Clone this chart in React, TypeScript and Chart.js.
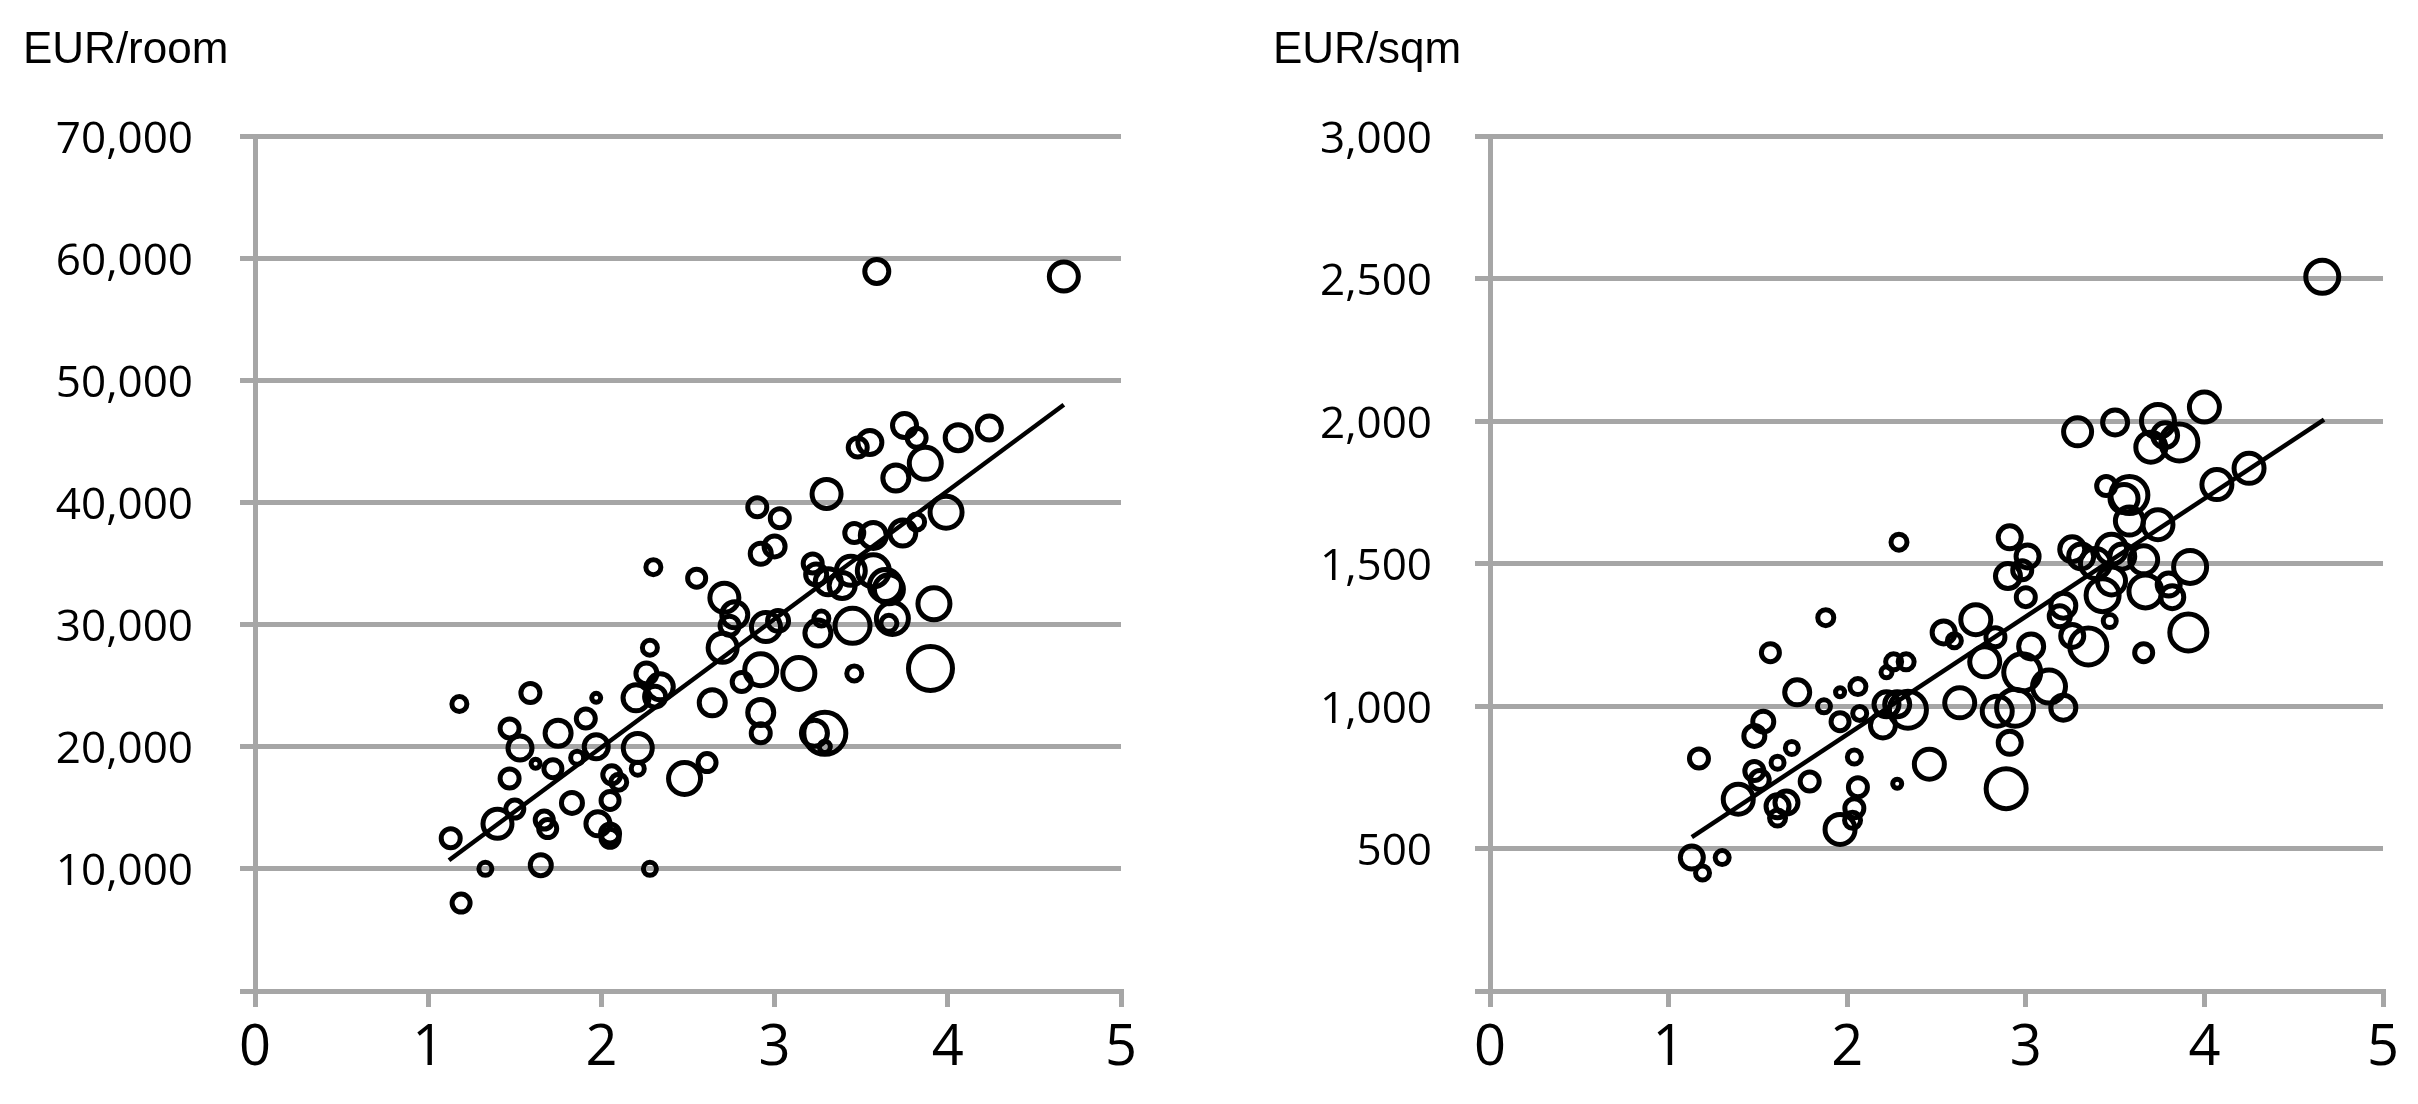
import React, { useEffect, useRef } from "react";
import Chart from "chart.js/auto";

// ---------- data ----------
const xTickValues = [0, 1, 2, 3, 4, 5];
const roomTickValues = [0, 10000, 20000, 30000, 40000, 50000, 60000, 70000];
const sqmTickValues = [0, 500, 1000, 1500, 2000, 2500, 3000];

const roomTitle = "EUR/room";
const sqmTitle = "EUR/sqm";

const roomX = [3.59,4.67,4.24,4.06,3.75,3.82,3.55,3.48,3.87,3.70,3.30,3.99,2.90,3.03,3.82,3.74,3.46,3.57,3.00,2.92,2.30,2.55,3.22,3.24,3.31,3.39,3.44,3.57,3.64,3.66,2.71,2.77,2.74,2.95,3.02,3.25,3.27,3.45,3.68,3.66,3.92,2.70,2.28,2.92,3.14,3.90,3.46,2.26,2.34,2.31,2.20,2.81,2.64,2.92,2.92,3.23,3.29,3.29,2.61,2.48,2.21,2.21,1.97,1.91,1.97,1.86,1.75,1.72,1.59,1.18,1.47,1.53,1.62,1.47,1.50,1.40,1.67,1.69,1.83,1.98,2.05,2.06,2.10,2.05,2.05,1.13,1.65,1.33,2.28,1.19];
const roomY = [58900,58500,46100,45300,46300,45300,44900,44500,43200,42000,40700,39200,39600,38700,38400,37500,37500,37300,36400,35800,34700,33800,35000,34100,33500,33200,34400,34400,33200,32900,32200,30800,29900,29800,30300,29300,30500,29900,30500,30100,31700,28100,28100,26300,26000,26400,26000,26000,24900,24100,24000,25300,23600,22800,21100,21100,21100,20000,18700,17400,19900,18200,24000,22300,20000,19100,21100,18200,24400,23500,21500,19900,18600,17400,14900,13700,14000,13300,15400,13700,12900,17700,17100,15600,12500,12500,10300,10000,10000,7200];
const roomR = [12,14.5,12,13,12,9.5,12,9.5,16,13,14.5,16,9.5,9.5,8,13,9.5,13,10.5,10.5,7.5,9,9.5,10.5,13,13,14.5,16,16,14.5,14.5,13,9.5,14.5,10.5,13,7.5,17.5,16,8,16,14.5,7.5,16,16,22,7.5,10.5,13,10.5,13,9.5,13,13,9.5,13,21,5.5,9,16,14.5,6.5,4.5,9.5,12,6.5,13,9,9.5,7.5,9.5,12,4.5,9.5,9,14.5,9,9,10.5,12,9.5,9,8,9,9,9.5,10.5,6.5,6.5,9];
const roomTrendX = [1.12, 4.67];
const roomTrendY = [10700, 48000];

const sqmX = [4.66,4.00,4.25,4.07,3.29,3.50,3.74,3.78,3.86,3.70,3.45,3.58,3.55,3.58,3.74,2.91,2.29,3.01,3.26,3.31,3.48,3.39,3.54,3.66,3.92,2.90,2.98,3.48,3.43,3.67,3.80,3.82,3.00,3.21,3.19,3.47,2.72,2.83,2.54,2.60,3.26,3.35,3.03,3.91,3.66,2.77,2.98,3.13,1.88,1.57,2.26,2.33,2.22,1.72,2.06,1.96,1.87,2.07,2.22,2.28,2.34,2.20,1.96,2.63,2.84,2.94,3.21,2.91,2.89,2.46,1.48,1.53,1.17,1.61,1.69,1.48,1.51,1.79,1.39,1.66,1.61,1.61,2.04,2.06,2.04,2.03,1.96,2.28,1.13,1.30,1.19];
const sqmY = [2506,2049,1834,1777,1962,1995,2000,1950,1925,1908,1772,1740,1728,1649,1636,1592,1575,1525,1550,1525,1550,1500,1525,1513,1488,1456,1476,1439,1389,1402,1426,1382,1382,1352,1315,1298,1303,1241,1258,1229,1246,1209,1209,1258,1187,1155,1118,1068,1310,1187,1155,1155,1118,1048,1068,1048,999,974,1006,1006,987,932,945,1011,982,994,994,871,710,796,895,945,816,801,853,772,740,735,673,661,648,607,821,715,641,599,567,727,468,468,414];
const sqmR = [16.5,15,15,15,14,12.5,16.5,12.5,18.5,15,9.5,18.5,14,14,15,11.5,8,11.5,12.5,12.5,15,15,12.5,14,16.5,12.5,9.5,14,16.5,16.5,11.5,11.5,9.5,12.5,10.5,6.5,15,9.5,11.5,7,11.5,18.5,12.5,18.5,9,15,18.5,16.5,8,9,8,8,5.5,12.5,8,4.5,6.5,7,12.5,12.5,18.5,12.5,9,15,15,18.5,12.5,11.5,20,15,10.5,10.5,9.5,6.5,6.5,9.5,9.5,9.5,15,11.5,11.5,8,7,9.5,9.5,8,15,4.5,11.5,7,7];
const sqmTrendX = [1.13, 4.67];
const sqmTrendY = [540, 2005];

// ---------- style ----------
const GRAY = "#A6A6A6";
const TICK_FONT = "'Open Sans', 'Noto Sans', sans-serif";
const TITLE_FONT = "'Liberation Sans', Arial, sans-serif";

type PanelSpec = {
  left: number;
  width: number;
  height: number;
  areaLeft: number;
  areaRight: number;
  areaTop: number;
  areaBottom: number;
  xs: number[];
  ys: number[];
  rs: number[];
  trendX: number[];
  trendY: number[];
  yTicks: number[];
  yPad: number;
  title: string;
  titleLeft: number;
};

function buildConfig(p: PanelSpec): any {
  const bubbles = p.xs.map((x, i) => ({ x, y: p.ys[i], r: p.rs[i] }));
  const trend = p.trendX.map((x, i) => ({ x, y: p.trendY[i] }));
  const yMax = p.yTicks[p.yTicks.length - 1];
  return {
    type: "bubble",
    data: {
      datasets: [
        {
          type: "line",
          data: trend,
          borderColor: "#000",
          borderWidth: 4.5,
          pointRadius: 0,
          fill: false,
          order: 0,
        },
        {
          type: "bubble",
          data: bubbles,
          backgroundColor: "rgba(0,0,0,0)",
          borderColor: "#000",
          borderWidth: 5,
          order: 1,
        },
      ],
    },
    options: {
      animation: false,
      responsive: false,
      maintainAspectRatio: false,
      events: [],
      layout: {
        padding: {
          left: 0,
          top: p.areaTop,
          right: p.width - p.areaRight,
          bottom: 0,
        },
      },
      plugins: {
        legend: { display: false },
        tooltip: { enabled: false },
        title: { display: false },
      },
      scales: {
        x: {
          type: "linear",
          min: xTickValues[0],
          max: xTickValues[xTickValues.length - 1],
          afterBuildTicks: (s: any) => {
            s.ticks = xTickValues.map((v) => ({ value: v }));
          },
          afterFit: (s: any) => {
            s.height = p.height - p.areaBottom;
          },
          ticks: {
            font: { family: TICK_FONT, size: 56 },
            color: "#000",
            padding: 8,
            maxRotation: 0,
            callback: (v: any) => String(v),
          },
          grid: {
            drawOnChartArea: false,
            drawTicks: true,
            tickLength: 16,
            tickWidth: 5,
            tickColor: GRAY,
            color: GRAY,
            lineWidth: 5,
          },
          border: { color: GRAY, width: 5 },
        },
        y: {
          type: "linear",
          min: 0,
          max: yMax,
          afterBuildTicks: (s: any) => {
            s.ticks = p.yTicks.map((v) => ({ value: v }));
          },
          afterFit: (s: any) => {
            s.width = p.areaLeft;
          },
          ticks: {
            font: { family: TICK_FONT, size: 44 },
            color: "#000",
            padding: p.yPad,
            labelOffset: 4,
            callback: (v: any) => (v === 0 ? "" : Number(v).toLocaleString("en-US")),
          },
          grid: {
            drawTicks: true,
            tickLength: 15,
            tickWidth: 5,
            tickColor: GRAY,
            color: GRAY,
            lineWidth: 5,
          },
          border: { color: GRAY, width: 5 },
        },
      },
    },
  };
}

function Panel({ spec }: { spec: PanelSpec }) {
  const ref = useRef<HTMLCanvasElement | null>(null);
  useEffect(() => {
    if (!ref.current) return;
    const chart = new Chart(ref.current, buildConfig(spec));
    return () => chart.destroy();
  }, [spec]);
  return (
    <div
      style={{
        position: "absolute",
        left: spec.left,
        top: 0,
        width: spec.width,
        height: spec.height,
      }}
    >
      <canvas
        ref={ref}
        width={spec.width}
        height={spec.height}
        style={{ width: spec.width, height: spec.height, display: "block" }}
      />
      <div
        style={{
          position: "absolute",
          left: spec.titleLeft,
          top: 24,
          fontFamily: TITLE_FONT,
          fontSize: 44,
          lineHeight: "48px",
          color: "#000",
          whiteSpace: "nowrap",
        }}
      >
        {spec.title}
      </div>
    </div>
  );
}

const roomSpec: PanelSpec = {
  left: 0,
  width: 1210,
  height: 1104,
  areaLeft: 255,
  areaRight: 1121,
  areaTop: 136,
  areaBottom: 991,
  xs: roomX,
  ys: roomY,
  rs: roomR,
  trendX: roomTrendX,
  trendY: roomTrendY,
  yTicks: roomTickValues,
  yPad: 47,
  title: roomTitle,
  titleLeft: 23,
};

const sqmSpec: PanelSpec = {
  left: 1210,
  width: 1208,
  height: 1104,
  areaLeft: 280,
  areaRight: 1173,
  areaTop: 136,
  areaBottom: 991,
  xs: sqmX,
  ys: sqmY,
  rs: sqmR,
  trendX: sqmTrendX,
  trendY: sqmTrendY,
  yTicks: sqmTickValues,
  yPad: 43,
  title: sqmTitle,
  titleLeft: 63,
};

export default function App() {
  return (
    <div
      style={{
        position: "absolute",
        left: 0,
        top: 0,
        width: 2418,
        height: 1104,
        background: "#fff",
        overflow: "hidden",
      }}
    >
      <Panel spec={roomSpec} />
      <Panel spec={sqmSpec} />
    </div>
  );
}
